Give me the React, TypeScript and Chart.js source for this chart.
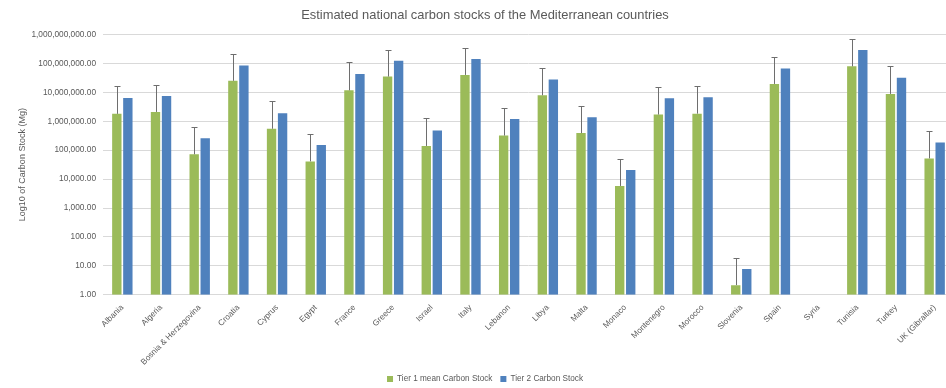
import React, { useEffect, useRef } from "react";
import { Chart, registerables } from "chart.js";

Chart.register(...registerables);

const countries = [
  "Albania", "Algeria", "Bosnia & Herzegovina", "Croatia", "Cyprus", "Egypt",
  "France", "Greece", "Israel", "Italy", "Lebanon", "Libya", "Malta", "Monaco",
  "Montenegro", "Morocco", "Slovenia", "Spain", "Syria", "Tunisia", "Turkey",
  "UK (Gibraltar)",
];

const tier1Mean = [
  1.8e6, 2.1e6, 7.2e4, 2.5e7, 5.5e5, 4.1e4, 1.17e7, 3.5e7, 1.4e5, 4.0e7, 3.2e5,
  7.9e6, 3.9e5, 5.8e3, 1.7e6, 1.83e6, 2.16, 1.95e7, null, 7.9e7, 8.8e6, 5.2e4,
];

const tier1Upper = [
  1.6e7, 1.85e7, 6.5e5, 2.1e8, 4.9e6, 3.6e5, 1.1e8, 3.0e8, 1.26e6, 3.5e8, 2.9e6,
  7.1e7, 3.5e6, 5.0e4, 1.49e7, 1.66e7, 19, 1.67e8, null, 7.1e8, 8.2e7, 4.7e5,
];

const tier2 = [
  6.4e6, 7.5e6, 2.6e5, 8.4e7, 1.9e6, 1.5e5, 4.3e7, 1.23e8, 4.8e5, 1.43e8, 1.2e6,
  2.8e7, 1.37e6, 2.07e4, 6.2e6, 6.7e6, 7.8, 6.6e7, null, 2.9e8, 3.2e7, 1.86e5,
];

const yTicks = [1, 10, 100, 1e3, 1e4, 1e5, 1e6, 1e7, 1e8, 1e9];

const FONT = "'Liberation Sans', Arial, sans-serif";
const TEXT = "#595959";

const errorBars = {
  id: "errorBars",
  afterDatasetsDraw(chart: any) {
    const meta = chart.getDatasetMeta(0);
    const y = chart.scales.y;
    const ctx = chart.ctx;
    ctx.save();
    ctx.strokeStyle = "#6e6e6e";
    ctx.lineWidth = 1;
    meta.data.forEach((el: any, i: number) => {
      const v = tier1Mean[i];
      const u = tier1Upper[i];
      if (v == null || u == null) return;
      const x = Math.round(el.x) + 0.5;
      const y0 = y.getPixelForValue(v);
      const y1 = Math.round(y.getPixelForValue(u)) + 0.5;
      ctx.beginPath();
      ctx.moveTo(x, y0);
      ctx.lineTo(x, y1);
      ctx.moveTo(x - 3, y1);
      ctx.lineTo(x + 3, y1);
      ctx.stroke();
    });
    ctx.restore();
  },
};

export default function App() {
  const ref = useRef<HTMLCanvasElement>(null);
  useEffect(() => {
    if (!ref.current) return;
    const chart = new Chart(ref.current, {
      type: "bar",
      data: {
        labels: countries,
        datasets: [
          {
            label: "Tier 1 mean Carbon Stock",
            data: tier1Mean as any,
            backgroundColor: "#9BBB59",
            categoryPercentage: 0.57,
            barPercentage: 0.85,
          },
          {
            label: "Tier 2 Carbon Stock",
            data: tier2 as any,
            backgroundColor: "#4F81BD",
            categoryPercentage: 0.57,
            barPercentage: 0.85,
          },
        ],
      },
      options: {
        responsive: false,
        animation: false,
        layout: { padding: { left: 16, right: 16, top: 0, bottom: -5 } },
        plugins: {
          title: {
            display: true,
            text: "Estimated national carbon stocks of the Mediterranean countries",
            color: TEXT,
            font: { family: FONT, size: 12.9, weight: "normal" },
            padding: { top: 8, bottom: 11 },
          },
          legend: {
            position: "bottom",
            labels: {
              color: TEXT,
              font: { family: FONT, size: 8.2 },
              boxWidth: 6,
              boxHeight: 6,
              padding: 8,
            },
          },
          tooltip: { enabled: false },
        },
        scales: {
          x: {
            grid: { display: false },
            border: { display: true, color: "#d9d9d9" },
            ticks: {
              color: TEXT,
              font: { family: FONT, size: 8.2 },
              minRotation: 45,
              maxRotation: 45,
              autoSkip: false,
              padding: 0,
            },
            afterFit(scale: any) {
              scale.height = 72;
            },
          },
          y: {
            type: "logarithmic",
            min: 1,
            max: 1e9,
            grid: { color: "#d9d9d9", drawTicks: false },
            border: { display: false },
            ticks: {
              color: TEXT,
              font: { family: FONT, size: 8.3 },
              padding: 7,
              callback: (v: any) =>
                Number(v).toLocaleString("en-US", {
                  minimumFractionDigits: 2,
                  maximumFractionDigits: 2,
                }),
            },
            afterBuildTicks(scale: any) {
              scale.ticks = yTicks.map((v) => ({ value: v }));
            },
            title: {
              display: true,
              text: "Log10 of Carbon Stock (Mg)",
              color: TEXT,
              font: { family: FONT, size: 9 },
              padding: { top: 1, bottom: 0 },
            },
            afterFit(scale: any) {
              scale.width = 87;
            },
          },
        },
      },
      plugins: [errorBars],
    });
    return () => chart.destroy();
  }, []);

  return (
    <div
      style={{
        position: "fixed",
        left: 0,
        top: 0,
        width: 946,
        height: 388,
        overflow: "hidden",
        background: "#fff",
      }}
    >
      <canvas ref={ref} width={970} height={388} style={{ width: 970, height: 388, display: "block" }} />
    </div>
  );
}
